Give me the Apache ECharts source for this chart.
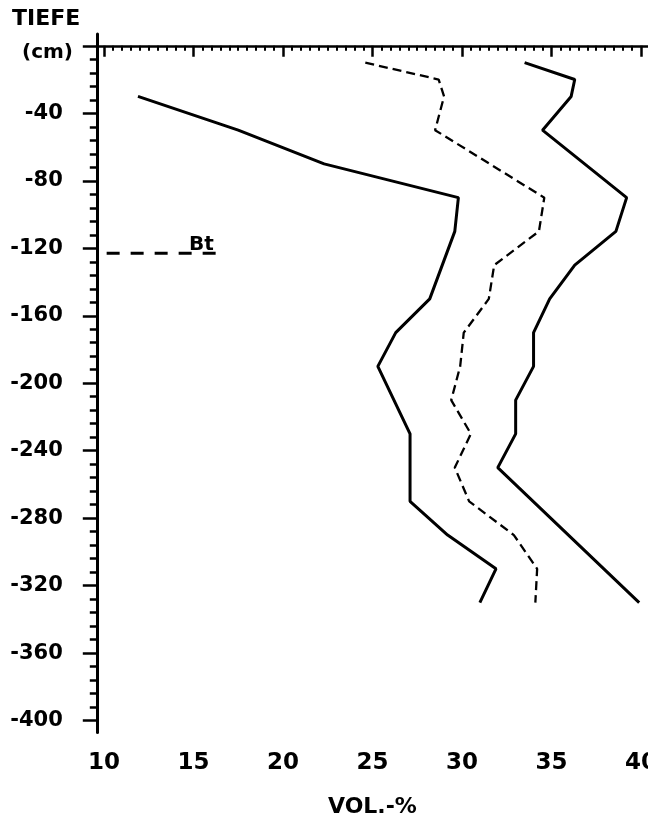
<!DOCTYPE html>
<html>
<head>
<meta charset="utf-8">
<script src="https://cdn.jsdelivr.net/npm/echarts@6/dist/echarts.min.js"></script>
<style>
  html, body { margin: 0; padding: 0; background: #fff; }
  #chart { width: 648px; height: 826px; }
</style>
</head>
<body>
<div id="chart"></div>
<script>
// Profile 1 (left, solid): depth in cm (negative = below surface) and volume percent
const depthA = [-30, -50, -70, -90, -110, -150, -170, -190, -230, -270, -290, -310, -330];
const volA   = [11.9, 17.5, 22.3, 29.8, 29.6, 28.2, 26.3, 25.3, 27.1, 27.1, 29.2, 31.9, 31.0];

// Profile 2 (middle, dashed)
const depthB = [-10, -20, -30, -50, -90, -110, -130, -150, -170, -190, -210, -230, -250, -270, -290, -310, -330];
const volB   = [24.6, 28.7, 29.0, 28.5, 34.6, 34.3, 31.8, 31.5, 30.1, 29.9, 29.4, 30.5, 29.6, 30.4, 32.9, 34.2, 34.1];

// Profile 3 (right, solid)
const depthC = [-10, -20, -30, -50, -90, -110, -130, -150, -170, -190, -210, -230, -250, -330];
const volC   = [33.5, 36.3, 36.1, 34.5, 39.2, 38.6, 36.3, 34.9, 34.0, 34.0, 33.0, 33.0, 32.0, 39.9];

// Bt horizon boundary marker
const btDepth = -123;
const btRange = [10.15, 16.4];
const btLabel = 'Bt';

// Axis labels
const xTickLabels = [10, 15, 20, 25, 30, 35, 40];
const yTickLabels = [-40, -80, -120, -160, -200, -240, -280, -320, -360, -400];
const yMajorTicks = [0, -40, -80, -120, -160, -200, -240, -280, -320, -360, -400];
const xTitle = 'VOL.-%';
const yTitle = 'TIEFE';
const yUnit = '(cm)';

// minor tick positions: every 0.5 % on x, every 8 cm on y
const xMinorTicks = [];
for (let i = 20; i <= 80; i++) if (i % 10 !== 0) xMinorTicks.push(i / 2);
const yMinorTicks = [];
for (let d = 0; d >= -400; d -= 8) if (d % 40 !== 0) yMinorTicks.push(d);

const pair = (xs, ys) => xs.map((v, i) => [v, ys[i]]);

const X_MIN = 9.6, X_MAX = 40.4, Y_MIN = -407, Y_MAX = 7;
const PX_X = 17.9, PX_Y = 1.6872;

const ink = '#000';
const labelFont = { fontFamily: 'DejaVu Sans', fontWeight: 'bold', color: ink };

const chart = echarts.init(document.getElementById('chart'), null, { renderer: 'canvas' });

const baseX = {
  type: 'value', min: X_MIN, max: X_MAX, position: 'bottom',
  splitLine: { show: false }
};
const baseY = {
  type: 'value', min: Y_MIN, max: Y_MAX, position: 'left',
  splitLine: { show: false }
};

chart.setOption({
  animation: false,
  backgroundColor: '#fff',
  grid: {
    left: 96.8,
    top: 45.8 - Y_MAX * PX_Y,
    width: (X_MAX - X_MIN) * PX_X,
    height: (Y_MAX - Y_MIN) * PX_Y,
    containLabel: false,
    outerBoundsMode: 'none'
  },
  xAxis: [
    Object.assign({}, baseX, {
      axisLine: { lineStyle: { color: ink, width: 2.5 } },
      axisTick: { customValues: xTickLabels, length: 11, lineStyle: { color: ink, width: 2.5 } },
      axisLabel: Object.assign({ customValues: xTickLabels, fontSize: 23, margin: 19 }, labelFont),
      name: xTitle,
      nameLocation: 'middle',
      nameGap: 64,
      nameTextStyle: Object.assign({ fontSize: 22 }, labelFont)
    }),
    Object.assign({}, baseX, {
      axisLine: { show: false },
      axisTick: { customValues: xMinorTicks, length: 5, lineStyle: { color: ink, width: 2 } },
      axisLabel: { show: false }
    })
  ],
  yAxis: [
    Object.assign({}, baseY, {
      axisLine: { lineStyle: { color: ink, width: 3 } },
      axisTick: { customValues: yMajorTicks, length: 14, lineStyle: { color: ink, width: 2.5 } },
      axisLabel: Object.assign({ customValues: yTickLabels, fontSize: 21, margin: 34 }, labelFont)
    }),
    Object.assign({}, baseY, {
      axisLine: { show: false },
      axisTick: { customValues: yMinorTicks, length: 7, lineStyle: { color: ink, width: 2.5 } },
      axisLabel: { show: false }
    })
  ],
  graphic: [
    { type: 'text', left: 12, top: 8,
      style: { text: yTitle, fontSize: 22, fill: ink, fontFamily: 'DejaVu Sans', fontWeight: 'bold' } },
    { type: 'text', right: 648 - 73, top: 43,
      style: { text: yUnit, fontSize: 20, fill: ink, fontFamily: 'DejaVu Sans', fontWeight: 'bold' } }
  ],
  series: [
    {
      type: 'line', data: pair(volA, depthA), symbol: 'none',
      lineStyle: { color: ink, width: 3 }
    },
    {
      type: 'line', data: pair(volB, depthB), symbol: 'none',
      lineStyle: { color: ink, width: 2.3, type: [9, 5] }
    },
    {
      type: 'line', data: pair(volC, depthC), symbol: 'none',
      lineStyle: { color: ink, width: 3 }
    },
    {
      type: 'line', symbol: 'none',
      data: pair(btRange, [btDepth, btDepth]),
      lineStyle: { color: ink, width: 3, type: [13, 11] }
    },
    {
      // label of the horizon boundary, anchored at the right end of the marker
      type: 'scatter', symbolSize: 0, itemStyle: { color: ink, opacity: 1 },
      data: [[btRange[1], btDepth]],
      label: { show: true, formatter: btLabel, position: 'top', distance: 0, offset: [-17, 1],
               fontSize: 20, fontFamily: 'DejaVu Sans', fontWeight: 'bold', color: ink,
               opacity: 1, textBorderWidth: 0 }
    }
  ]
});
</script>
</body>
</html>
